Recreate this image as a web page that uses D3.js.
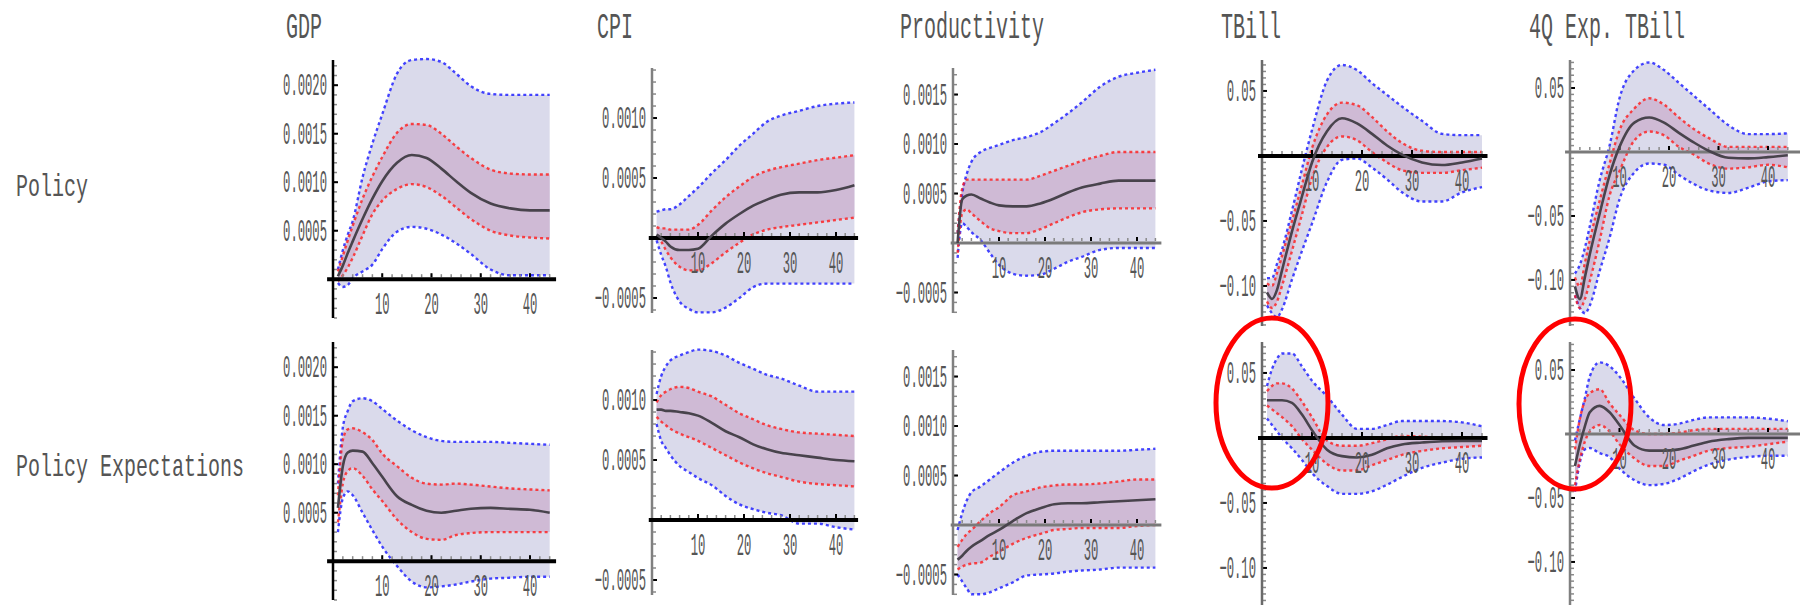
<!DOCTYPE html>
<html>
<head>
<meta charset="utf-8">
<script src="https://cdn.jsdelivr.net/npm/d3@7"></script>
<style>
  body { margin: 0; background: #fff; }
  svg { display: block; }
  text { font-family: "Liberation Mono", "DejaVu Sans Mono", monospace; fill: #555; }
</style>
</head>
<body>
<div id="chart"></div>
<script>
// Impulse responses: median line, inner (red) and outer (blue) bands
var horizon = [1, 2, 3, 4, 6, 8, 10, 13, 16, 19, 22, 25, 28, 32, 36, 40, 44];
var variables = ["GDP", "CPI", "Productivity", "TBill", "4Q Exp. TBill"];
var shocks = ["Policy", "Policy Expectations"];
var xTicks = [10, 20, 30, 40];

var yTicksGdp = [0.0005, 0.0010, 0.0015, 0.0020];
var yTicksCpi = [-0.0005, 0.0005, 0.0010];
var yTicksProd = [-0.0005, 0.0005, 0.0010, 0.0015];
var yTicksRate = [-0.10, -0.05, 0.05];

// ---- GDP
var gdpPolicy = {
  median: [0.00003, 0.00014, 0.00027, 0.00039, 0.00062, 0.00083, 0.00101, 0.00120, 0.00128, 0.00125, 0.00114, 0.00101, 0.00089, 0.00078, 0.00073, 0.00071, 0.00071],
  lo68:   [-0.00002, 0.00004, 0.00012, 0.00022, 0.00045, 0.00067, 0.00081, 0.00093, 0.00098, 0.00095, 0.00086, 0.00074, 0.00062, 0.00050, 0.00045, 0.00043, 0.00042],
  hi68:   [0.00008, 0.00024, 0.00040, 0.00055, 0.00083, 0.00106, 0.00126, 0.00151, 0.00160, 0.00159, 0.00150, 0.00137, 0.00125, 0.00113, 0.00109, 0.00108, 0.00108],
  lo90:   [-0.00004, -0.00008, -0.00006, 0.00001, 0.00008, 0.00015, 0.00031, 0.00049, 0.00054, 0.00052, 0.00046, 0.00037, 0.00026, 0.00010, 0.00004, 0.00004, 0.00004],
  hi90:   [0.00010, 0.00030, 0.00046, 0.00060, 0.00105, 0.00140, 0.00170, 0.00212, 0.00226, 0.00227, 0.00224, 0.00212, 0.00199, 0.00191, 0.00190, 0.00190, 0.00190]
};
var gdpExpect = {
  median: [0.00055, 0.00098, 0.00112, 0.00114, 0.00113, 0.00101, 0.00087, 0.00067, 0.00058, 0.00052, 0.00050, 0.00052, 0.00054, 0.00055, 0.00054, 0.00053, 0.00050],
  lo68:   [0.00040, 0.00080, 0.00093, 0.00096, 0.00088, 0.00074, 0.00062, 0.00043, 0.00030, 0.00023, 0.00022, 0.00027, 0.00029, 0.00030, 0.00030, 0.00030, 0.00030],
  hi68:   [0.00068, 0.00125, 0.00136, 0.00137, 0.00133, 0.00125, 0.00111, 0.00098, 0.00086, 0.00080, 0.00079, 0.00080, 0.00079, 0.00077, 0.00075, 0.00074, 0.00073],
  lo90:   [0.00030, 0.00065, 0.00072, 0.00068, 0.00050, 0.00032, 0.00015, -0.00005, -0.00021, -0.00027, -0.00026, -0.00024, -0.00021, -0.00018, -0.00017, -0.00016, -0.00016],
  hi90:   [0.00080, 0.00138, 0.00155, 0.00165, 0.00168, 0.00165, 0.00157, 0.00145, 0.00135, 0.00128, 0.00124, 0.00123, 0.00123, 0.00123, 0.00122, 0.00121, 0.00120]
};

// ---- CPI
var cpiPolicy = {
  median: [0.00003, 0.00000, -0.00003, -0.00007, -0.00010, -0.00010, -0.00009, 0.00002, 0.00012, 0.00020, 0.00027, 0.00032, 0.00036, 0.00038, 0.00038, 0.00040, 0.00044],
  lo68:   [0.00000, -0.00003, -0.00010, -0.00016, -0.00024, -0.00027, -0.00027, -0.00021, -0.00012, -0.00004, 0.00003, 0.00007, 0.00009, 0.00011, 0.00013, 0.00015, 0.00017],
  hi68:   [0.00009, 0.00008, 0.00008, 0.00007, 0.00007, 0.00007, 0.00011, 0.00023, 0.00034, 0.00043, 0.00051, 0.00056, 0.00059, 0.00062, 0.00065, 0.00067, 0.00069],
  lo90:   [-0.00002, -0.00014, -0.00024, -0.00037, -0.00053, -0.00059, -0.00062, -0.00062, -0.00058, -0.00050, -0.00041, -0.00038, -0.00038, -0.00038, -0.00038, -0.00038, -0.00038],
  hi90:   [0.00022, 0.00023, 0.00024, 0.00024, 0.00028, 0.00035, 0.00042, 0.00054, 0.00065, 0.00077, 0.00087, 0.00097, 0.00102, 0.00106, 0.00110, 0.00112, 0.00113]
};
var cpiExpect = {
  median: [0.00092, 0.00092, 0.00091, 0.00091, 0.00090, 0.00089, 0.00087, 0.00081, 0.00074, 0.00069, 0.00063, 0.00059, 0.00056, 0.00054, 0.00052, 0.00050, 0.00049],
  lo68:   [0.00086, 0.00082, 0.00079, 0.00076, 0.00072, 0.00069, 0.00066, 0.00060, 0.00054, 0.00048, 0.00043, 0.00039, 0.00036, 0.00032, 0.00030, 0.00029, 0.00028],
  hi68:   [0.00098, 0.00104, 0.00107, 0.00109, 0.00111, 0.00110, 0.00107, 0.00103, 0.00096, 0.00089, 0.00084, 0.00079, 0.00076, 0.00073, 0.00072, 0.00071, 0.00070],
  lo90:   [0.00080, 0.00066, 0.00060, 0.00054, 0.00045, 0.00040, 0.00035, 0.00029, 0.00020, 0.00013, 0.00009, 0.00006, 0.00004, -0.00003, -0.00003, -0.00006, -0.00008],
  hi90:   [0.00105, 0.00120, 0.00128, 0.00133, 0.00137, 0.00140, 0.00142, 0.00141, 0.00137, 0.00131, 0.00126, 0.00121, 0.00118, 0.00112, 0.00107, 0.00107, 0.00107]
};

// ---- Productivity
var prodPolicy = {
  median: [0.00000, 0.00044, 0.00048, 0.00049, 0.00045, 0.00041, 0.00038, 0.00037, 0.00037, 0.00040, 0.00045, 0.00051, 0.00056, 0.00060, 0.00063, 0.00063, 0.00063],
  lo68:   [-0.00010, 0.00030, 0.00034, 0.00030, 0.00022, 0.00015, 0.00012, 0.00010, 0.00010, 0.00014, 0.00020, 0.00026, 0.00031, 0.00034, 0.00035, 0.00035, 0.00035],
  hi68:   [0.00010, 0.00055, 0.00064, 0.00064, 0.00064, 0.00064, 0.00064, 0.00064, 0.00064, 0.00068, 0.00073, 0.00078, 0.00083, 0.00088, 0.00092, 0.00092, 0.00092],
  lo90:   [-0.00015, 0.00020, 0.00016, 0.00011, 0.00003, -0.00010, -0.00022, -0.00031, -0.00033, -0.00032, -0.00026, -0.00019, -0.00014, -0.00007, -0.00005, -0.00005, -0.00005],
  hi90:   [0.00010, 0.00050, 0.00070, 0.00082, 0.00092, 0.00096, 0.00099, 0.00104, 0.00107, 0.00112, 0.00121, 0.00131, 0.00142, 0.00158, 0.00168, 0.00172, 0.00175]
};
var prodExpect = {
  median: [-0.00035, -0.00031, -0.00026, -0.00022, -0.00016, -0.00010, -0.00005, 0.00004, 0.00012, 0.00017, 0.00021, 0.00022, 0.00022, 0.00023, 0.00024, 0.00025, 0.00026],
  lo68:   [-0.00045, -0.00042, -0.00040, -0.00039, -0.00038, -0.00032, -0.00027, -0.00019, -0.00013, -0.00009, -0.00005, -0.00004, -0.00003, -0.00003, -0.00003, -0.00001, 0.00000],
  hi68:   [-0.00022, -0.00015, -0.00009, -0.00005, 0.00004, 0.00012, 0.00018, 0.00030, 0.00034, 0.00038, 0.00040, 0.00041, 0.00041, 0.00042, 0.00044, 0.00046, 0.00046],
  lo90:   [-0.00050, -0.00057, -0.00064, -0.00070, -0.00070, -0.00068, -0.00064, -0.00058, -0.00051, -0.00050, -0.00049, -0.00047, -0.00046, -0.00045, -0.00043, -0.00043, -0.00043],
  hi90:   [-0.00005, 0.00012, 0.00025, 0.00033, 0.00039, 0.00046, 0.00053, 0.00063, 0.00070, 0.00074, 0.00075, 0.00075, 0.00075, 0.00075, 0.00075, 0.00076, 0.00077]
};

// ---- TBill
var tbillPolicy = {
  median: [-0.105, -0.110, -0.103, -0.088, -0.058, -0.031, -0.005, 0.019, 0.029, 0.025, 0.017, 0.008, 0.001, -0.005, -0.007, -0.005, -0.002],
  lo68:   [-0.112, -0.117, -0.112, -0.100, -0.073, -0.045, -0.017, 0.007, 0.015, 0.012, 0.003, -0.005, -0.011, -0.013, -0.013, -0.011, -0.009],
  hi68:   [-0.098, -0.100, -0.090, -0.077, -0.050, -0.022, 0.006, 0.032, 0.041, 0.039, 0.030, 0.019, 0.010, 0.004, 0.003, 0.003, 0.003],
  lo90:   [-0.115, -0.121, -0.124, -0.118, -0.095, -0.073, -0.052, -0.020, -0.003, -0.002, -0.009, -0.018, -0.028, -0.035, -0.035, -0.028, -0.024],
  hi90:   [-0.094, -0.094, -0.083, -0.072, -0.042, -0.010, 0.020, 0.058, 0.070, 0.066, 0.056, 0.047, 0.038, 0.027, 0.017, 0.016, 0.016]
};
var tbillExpect = {
  median: [0.029, 0.029, 0.029, 0.029, 0.027, 0.018, 0.006, -0.009, -0.014, -0.015, -0.013, -0.008, -0.005, -0.0035, -0.0025, -0.0023, -0.0023],
  lo68:   [0.025, 0.022, 0.019, 0.016, 0.009, -0.001, -0.009, -0.020, -0.025, -0.025, -0.021, -0.017, -0.013, -0.010, -0.008, -0.007, -0.006],
  hi68:   [0.036, 0.040, 0.042, 0.042, 0.038, 0.028, 0.016, -0.002, -0.006, -0.006, -0.004, -0.001, 0.0015, 0.001, 0.000, 0.000, 0.000],
  lo90:   [0.015, 0.010, 0.005, 0.000, -0.008, -0.017, -0.027, -0.037, -0.043, -0.043, -0.041, -0.036, -0.030, -0.023, -0.019, -0.016, -0.015],
  hi90:   [0.040, 0.053, 0.061, 0.065, 0.065, 0.055, 0.044, 0.032, 0.018, 0.007, 0.007, 0.010, 0.013, 0.013, 0.013, 0.012, 0.009]
};

// ---- 4Q expected TBill
var expPolicy = {
  median: [-0.105, -0.115, -0.098, -0.080, -0.048, -0.018, 0.004, 0.023, 0.027, 0.023, 0.015, 0.0075, 0.001, -0.0045, -0.005, -0.004, -0.0025],
  lo68:   [-0.112, -0.122, -0.115, -0.101, -0.069, -0.034, -0.015, 0.009, 0.016, 0.013, 0.004, -0.002, -0.009, -0.013, -0.012, -0.010, -0.012],
  hi68:   [-0.098, -0.105, -0.087, -0.069, -0.038, -0.009, 0.017, 0.034, 0.042, 0.037, 0.027, 0.018, 0.011, 0.004, 0.004, 0.004, 0.004],
  lo90:   [-0.112, -0.122, -0.126, -0.120, -0.093, -0.067, -0.037, -0.016, -0.009, -0.010, -0.018, -0.025, -0.030, -0.032, -0.028, -0.023, -0.022],
  hi90:   [-0.095, -0.088, -0.075, -0.058, -0.022, 0.005, 0.042, 0.064, 0.070, 0.064, 0.054, 0.044, 0.034, 0.021, 0.014, 0.014, 0.0146]
};
var expExpect = {
  median: [-0.025, -0.008, 0.006, 0.017, 0.022, 0.017, 0.007, -0.009, -0.013, -0.013, -0.012, -0.009, -0.006, -0.004, -0.003, -0.003, -0.003],
  lo68:   [-0.040, -0.020, -0.006, 0.002, 0.007, 0.002, -0.008, -0.019, -0.025, -0.025, -0.021, -0.017, -0.013, -0.011, -0.010, -0.008, -0.006],
  hi68:   [-0.012, 0.012, 0.026, 0.032, 0.035, 0.024, 0.015, 0.003, 0.000, 0.000, 0.001, 0.003, 0.004, 0.004, 0.004, 0.004, 0.004],
  lo90:   [-0.045, -0.022, -0.012, -0.011, -0.015, -0.018, -0.027, -0.036, -0.040, -0.039, -0.035, -0.029, -0.024, -0.020, -0.018, -0.017, -0.017],
  hi90:   [-0.005, 0.012, 0.028, 0.045, 0.056, 0.053, 0.045, 0.028, 0.013, 0.007, 0.008, 0.011, 0.013, 0.013, 0.013, 0.012, 0.010]
};

// layout of each column of panels (pixels)
var fmt4 = d3.format(".4f"), fmt2 = d3.format(".2f");
var columns = [
  {data: [gdpPolicy, gdpExpect], yDomain: [-0.0004, 0.00226], yRange: [318, 60], xRange: [333, 554.6],
   xExt: [-1.2, 45.3], yTicks: yTicksGdp, fmt: fmt4, minor: 0.0001, zeroColor: "#000", zeroW: 4, yColor: "#000", titleX: 286},
  {data: [cpiPolicy, cpiExpect], yDomain: [-0.000625, 0.001417], yRange: [313, 68], xRange: [652, 859],
   xExt: [-0.7, 44.8], yTicks: yTicksCpi, fmt: fmt4, minor: 0.0001, zeroColor: "#000", zeroW: 4, yColor: "#808080", titleX: 597},
  {data: [prodPolicy, prodExpect], yDomain: [-0.000707, 0.001768], yRange: [313, 68], xRange: [953, 1160],
   xExt: [-0.5, 45.3], yTicks: yTicksProd, fmt: fmt4, minor: 0.0001, zeroColor: "#7a7a7a", zeroW: 3, yColor: "#808080", titleX: 900},
  {data: [tbillPolicy, tbillExpect], yDomain: [-0.1308, 0.0738], yRange: [326, 60], xRange: [1262, 1487],
   xExt: [-0.8, 45.1], yTicks: yTicksRate, fmt: fmt2, minor: 0.005, zeroColor: "#000", zeroW: 4, yColor: "#6a6a6a", titleX: 1221},
  {data: [expPolicy, expExpect], yDomain: [-0.136, 0.0719], yRange: [326, 60], xRange: [1570, 1792.75],
   xExt: [-1, 47], yTicks: yTicksRate, fmt: fmt2, minor: 0.005, zeroColor: "#7a7a7a", zeroW: 3, yColor: "#808080", titleX: 1529}
];
var rowShift = [0, 282];

var svg = d3.select("#chart").append("svg")
  .attr("width", 1800)
  .attr("height", 605);

// tall, narrow lettering like the original
function label(g, str, x, y, size, sy, anchor) {
  return g.append("text")
    .attr("transform", `translate(${x},${y}) scale(1,${sy})`)
    .attr("font-size", size + "px")
    .attr("text-anchor", anchor)
    .text(str);
}

function drawPanel(col, series, dy) {
  var g = svg.append("g").attr("transform", `translate(0,${dy})`);
  var x = d3.scaleLinear().domain([0, 45]).range(col.xRange);
  var y = d3.scaleLinear().domain(col.yDomain).range(col.yRange);

  var pts = horizon.map(function(t, i) {
    return {t: t, med: series.median[i], lo68: series.lo68[i], hi68: series.hi68[i],
            lo90: series.lo90[i], hi90: series.hi90[i]};
  });

  var area = function(lo, hi) {
    return d3.area().x(d => x(d.t)).y0(d => y(d[lo])).y1(d => y(d[hi])).curve(d3.curveMonotoneX);
  };
  var line = function(key) {
    return d3.line().x(d => x(d.t)).y(d => y(d[key])).curve(d3.curveMonotoneX);
  };

  g.append("path").datum(pts).attr("d", area("lo90", "hi90")).attr("fill", "#dadaeb");
  g.append("path").datum(pts).attr("d", area("lo68", "hi68")).attr("fill", "#cfbad5");

  ["lo90", "hi90"].forEach(function(k) {
    g.append("path").datum(pts).attr("d", line(k))
      .attr("fill", "none").attr("stroke", "#2323ff").attr("stroke-opacity", 0.85)
      .attr("stroke-width", 2.4).attr("stroke-dasharray", "3,3");
  });
  ["lo68", "hi68"].forEach(function(k) {
    g.append("path").datum(pts).attr("d", line(k))
      .attr("fill", "none").attr("stroke", "#ff1a1a").attr("stroke-opacity", 0.8)
      .attr("stroke-width", 2.4).attr("stroke-dasharray", "3,3");
  });

  // axes
  var x0 = x(0), yZero = y(0);
  var minorY = d3.range(Math.ceil(col.yDomain[0] / col.minor), Math.floor(col.yDomain[1] / col.minor) + 1)
    .map(k => k * col.minor);
  g.selectAll(null).data(minorY).enter().append("line")
    .attr("x1", x0 + 1).attr("x2", x0 + 4)
    .attr("y1", d => y(d)).attr("y2", d => y(d))
    .attr("stroke", "#8a8a8a").attr("stroke-width", 1.5);
  g.selectAll(null).data(col.yTicks).enter().append("line")
    .attr("x1", x0 + 1).attr("x2", x0 + 5)
    .attr("y1", d => y(d)).attr("y2", d => y(d))
    .attr("stroke", "#000").attr("stroke-width", 2);

  var minorX = d3.range(2, 45, 2);
  g.selectAll(null).data(minorX).enter().append("line")
    .attr("x1", d => x(d)).attr("x2", d => x(d))
    .attr("y1", yZero - 2).attr("y2", yZero - 5)
    .attr("stroke", "#8a8a8a").attr("stroke-width", 1.5);
  g.selectAll(null).data(xTicks).enter().append("line")
    .attr("x1", d => x(d)).attr("x2", d => x(d))
    .attr("y1", yZero - 2).attr("y2", yZero - 6)
    .attr("stroke", "#000").attr("stroke-width", 2);

  g.append("line")
    .attr("x1", x0).attr("x2", x0)
    .attr("y1", col.yRange[1]).attr("y2", col.yRange[0])
    .attr("stroke", col.yColor).attr("stroke-width", 2.5);
  g.append("line")
    .attr("x1", x(col.xExt[0])).attr("x2", x(col.xExt[1]))
    .attr("y1", yZero).attr("y2", yZero)
    .attr("stroke", col.zeroColor).attr("stroke-width", col.zeroW);

  g.append("path").datum(pts).attr("d", line("med"))
    .attr("fill", "none").attr("stroke", "#48434c").attr("stroke-width", 2.6);

  // tick labels
  col.yTicks.forEach(function(v) {
    label(g, col.fmt(v), x0 - 6, y(v) + 10, 12.2, 2.55, "end");
  });
  xTicks.forEach(function(v) {
    label(g, String(v), x(v), yZero + 35, 12.2, 2.55, "middle");
  });
}

columns.forEach(function(col, c) {
  col.data.forEach(function(series, r) {
    drawPanel(col, series, rowShift[r]);
  });
  label(svg, variables[c], col.titleX, 38, 20, 1.8, "start");
});

label(svg, shocks[0], 16, 196, 20, 1.55, "start");
label(svg, shocks[1], 16, 476, 20, 1.55, "start");

// highlight circles drawn over the TBill responses to expectations
var highlights = [{cx: 1272, cy: 403, rx: 56, ry: 85}, {cx: 1575, cy: 404, rx: 56, ry: 85}];
svg.selectAll(null).data(highlights).enter().append("ellipse")
  .attr("cx", d => d.cx).attr("cy", d => d.cy)
  .attr("rx", d => d.rx).attr("ry", d => d.ry)
  .attr("fill", "none").attr("stroke", "#ff0000").attr("stroke-width", 5);
</script>
</body>
</html>
